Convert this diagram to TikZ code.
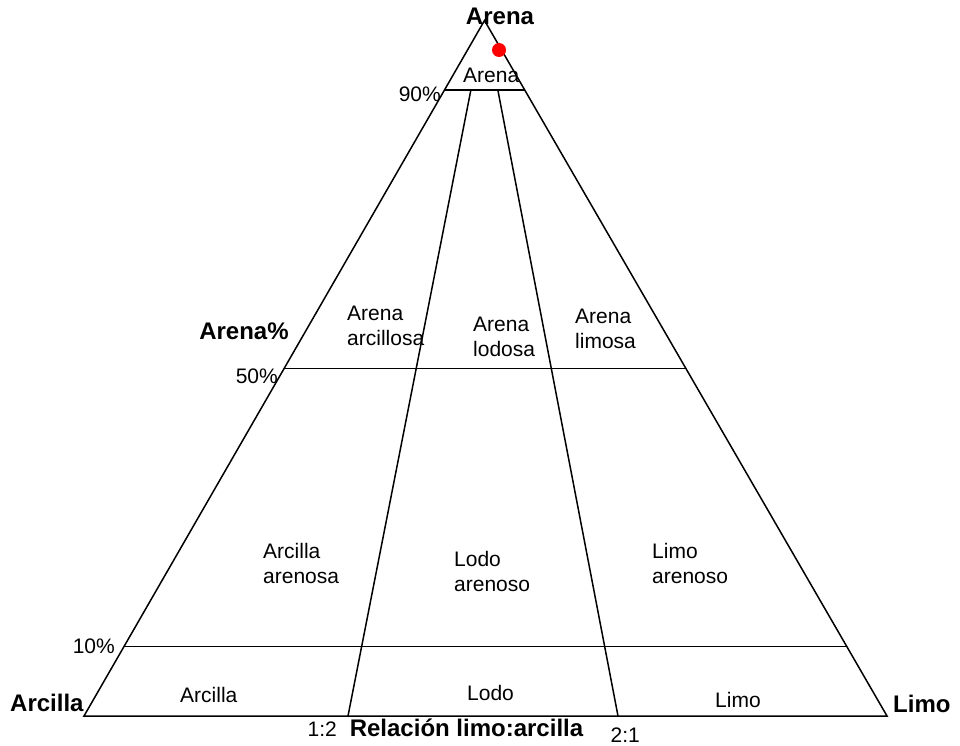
\documentclass[tikz,border=0pt]{standalone}
\usepackage{fontspec}
\setmainfont{Liberation Sans}
\usetikzlibrary{calc}
\definecolor{DotRed}{RGB}{255,0,0}
\tikzset{
	side/.style={draw=black,line width=1.5pt},
	zone/.style={font=\fontsize{21}{24.5}\selectfont,align=left,anchor=base west,inner sep=0pt},
	pct/.style={font=\fontsize{21}{24}\selectfont,anchor=base east,inner sep=0pt},
	pole/.style={font=\bfseries\fontsize{24}{28}\selectfont,anchor=base,inner sep=0pt},
}
\begin{document}
\begin{tikzpicture}[x=1pt,y=-1pt]
			\useasboundingbox (0,0) rectangle (960,746);
			% corners of the triangle
			\coordinate (sand) at (484.5,20.5);
			\coordinate (clay) at (84,716);
			\coordinate (silt) at (887,716);
			% ratio points on the base
			\coordinate (r12) at (348,716);
			\coordinate (r21) at (618,716);
			\draw[side] (sand)--(clay)--(silt)--cycle;
			\draw[side] ($(clay)!0.9!(sand)$)--($(silt)!0.9!(sand)$);
			\draw[side] ($(clay)!0.5!(sand)$)--($(silt)!0.5!(sand)$);
			\draw[side] ($(clay)!0.1!(sand)$)--($(silt)!0.1!(sand)$);
			\draw[side] (r12)--($(r12)!0.9!(sand)$);
			\draw[side] (r21)--($(r21)!0.9!(sand)$);
			\fill[DotRed] (499,50) circle (7);
			% poles
			\node[pole] (top) at (500,25) {Arena};
			\node[pole,anchor=base west] (left) at (10,711) {Arcilla};
			\node[pole,anchor=base west] (right) at (893,712) {Limo};
			\node[pole] (axis) at (466.5,736) {Relación limo:arcilla};
			\node[pole] (pctname) at (244,339) {Arena\%};
			% scale marks
			\node[pct] (p90) at (441,102) {90\%};
			\node[pct] (p50) at (278,383) {50\%};
			\node[pct] (p10) at (115,653) {10\%};
			\node[pct] (q12) at (337,736) {1:2};
			\node[pct] (q21) at (640,742) {2:1};
			% classes (base = last line)
			\node[zone] (arena) at (463,83) {Arena};
			\node[zone] (arcillosa) at (347,345) {Arena\\arcillosa};
			\node[zone] (lodosa) at (473,356) {Arena\\lodosa};
			\node[zone] (limosa) at (575,348) {Arena\\limosa};
			\node[zone] (arcarenosa) at (263,583) {Arcilla\\arenosa};
			\node[zone] (lodoarenoso) at (454,591) {Lodo\\arenoso};
			\node[zone] (limoarenoso) at (652,583) {Limo\\arenoso};
			\node[zone] (arcilla) at (180,702) {Arcilla};
			\node[zone] (lodo) at (467,700) {Lodo};
			\node[zone] (limo) at (715,707) {Limo};
		\end{tikzpicture}
\end{document}
